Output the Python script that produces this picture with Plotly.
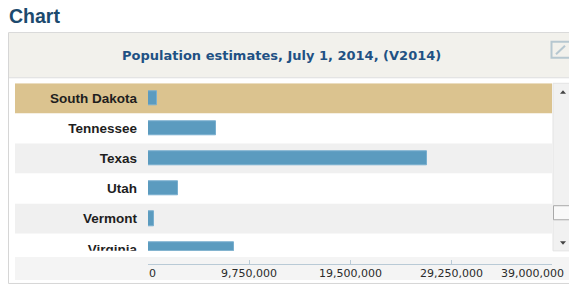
import plotly.graph_objects as go

W, H = 569, 288
FIG_H = 295

states = ["South Dakota", "Tennessee", "Texas", "Utah", "Vermont", "Virginia"]
population = [853175, 6549352, 26956958, 2942902, 626562, 8326289]
row_colors = ["#dbc38f", "#ffffff", "#f0f0f0", "#ffffff", "#f0f0f0", "#ffffff"]
tick_vals = [0, 9750000, 19500000, 29250000, 39000000]
tick_labels = ["0", "9,750,000", "19,500,000", "29,250,000", "39,000,000"]
x_max = 39000000

FONT = "Liberation Sans, Arial, sans-serif"
WIDE = "DejaVu Sans, Verdana, sans-serif"


def px(x):
    return x / W


def py(y):
    return 1 - y / H


positions = list(range(len(states)))

fig = go.Figure()
fig.add_trace(go.Bar(
    x=population, y=positions, orientation="h",
    width=0.47,
    marker=dict(color="#5b9bbf", line=dict(width=1, color="#79afcf")),
    hoverinfo="skip",
))

shapes = []
# panel
shapes.append(dict(type="rect", xref="paper", yref="paper", layer="below",
                   x0=px(8.5), x1=px(580), y0=py(282.5), y1=py(32.5),
                   line=dict(color="#d6d6d6", width=1), fillcolor="#ffffff"))
# header
shapes.append(dict(type="rect", xref="paper", yref="paper", layer="below",
                   x0=px(9), x1=px(569), y0=py(77), y1=py(33),
                   line=dict(width=0), fillcolor="#f2f1ec"))
shapes.append(dict(type="line", xref="paper", yref="paper", layer="below",
                   x0=px(9), x1=px(569), y0=py(77.5), y1=py(77.5),
                   line=dict(color="#dcdcdc", width=1)))
# row backgrounds
for i, c in enumerate(row_colors):
    shapes.append(dict(type="rect", xref="paper", yref="y", layer="below",
                       x0=px(15), x1=px(552), y0=i - 0.5, y1=i + 0.5,
                       line=dict(width=0), fillcolor=c))
# axis band
shapes.append(dict(type="rect", xref="paper", yref="paper", layer="below",
                   x0=px(15), x1=px(569), y0=py(279), y1=py(256),
                   line=dict(width=0), fillcolor="#f4f4f4"))
# scrollbar
shapes.append(dict(type="rect", xref="paper", yref="paper", layer="below",
                   x0=px(553), x1=px(570), y0=py(250), y1=py(83),
                   line=dict(color="#e3e3e3", width=1), fillcolor="#f1f1f1"))
shapes.append(dict(type="rect", xref="paper", yref="paper", layer="below",
                   x0=px(553.5), x1=px(570), y0=py(219), y1=py(205),
                   line=dict(color="#a9a9a9", width=1), fillcolor="#f9f9f9"))


def tri(pts):
    d = "M " + " L ".join(f"{px(a):.5f},{py(b):.5f}" for a, b in pts) + " Z"
    return d


shapes.append(dict(type="path", xref="paper", yref="paper", layer="above",
                   path=tri([(560, 93.5), (566, 93.5), (563, 90)]),
                   line=dict(width=0), fillcolor="#444444"))
shapes.append(dict(type="path", xref="paper", yref="paper", layer="above",
                   path=tri([(560, 240.5), (566, 240.5), (563, 244)]),
                   line=dict(width=0), fillcolor="#444444"))
# expand icon
shapes.append(dict(type="rect", xref="paper", yref="paper", layer="below",
                   x0=px(551.5), x1=px(572), y0=py(57.5), y1=py(41.5),
                   line=dict(color="#b6c7d0", width=2), fillcolor="rgba(0,0,0,0)"))
shapes.append(dict(type="line", xref="paper", yref="paper", layer="below",
                   x0=px(556), x1=px(565), y0=py(54), y1=py(45.5),
                   line=dict(color="#b6c7d0", width=2)))
# cut the partially visible last row label
shapes.append(dict(type="rect", xref="paper", yref="paper", layer="above",
                   x0=px(15), x1=px(147), y0=py(256), y1=py(250),
                   line=dict(width=0), fillcolor="#ffffff"))

annotations = [
    dict(text="Chart", xref="paper", yref="paper", x=px(7), y=py(16),
         xanchor="left", yanchor="middle", showarrow=False,
         font=dict(family=FONT, size=19.5, color="#1c4a6e", weight="bold")),
    dict(text="Population estimates, July 1, 2014, (V2014)", xref="paper", yref="paper",
         x=px(281), y=py(55.5), xanchor="center", yanchor="middle", showarrow=False,
         font=dict(family=WIDE, size=13, color="#1f5184", weight="bold")),
]
for i, (v, t) in enumerate(zip(tick_vals, tick_labels)):
    if i == 0:
        xa, xs = "left", -1
    elif i == len(tick_vals) - 1:
        xa, xs = "right", 14
    else:
        xa, xs = "center", 0
    annotations.append(dict(text=t, xref="x", yref="paper", x=v, y=py(272.5),
                            xanchor=xa, yanchor="middle", xshift=xs, showarrow=False,
                            font=dict(family=WIDE, size=11, color="#2a2a2a")))

plot_bottom = 250
fig.update_layout(
    width=W, height=FIG_H,
    margin=dict(l=0, r=0, t=0, b=0),
    paper_bgcolor="#ffffff", plot_bgcolor="rgba(0,0,0,0)",
    showlegend=False,
    bargap=0,
    shapes=shapes,
    annotations=annotations,
    xaxis=dict(range=[0, x_max], domain=[px(148), px(552)],
               anchor="free", position=py(263),
               tickvals=tick_vals, showticklabels=False,
               ticks="inside", ticklen=4, tickcolor="#b9cad6", tickwidth=1,
               showline=True, linecolor="#b9cad6", linewidth=1,
               showgrid=False, zeroline=False, fixedrange=True),
    yaxis=dict(range=[-0.5 + (plot_bottom - 83) / 30.0, -0.5],
               domain=[py(plot_bottom), py(83)],
               tickvals=positions, ticktext=states,
               ticks="", ticklabelstandoff=10,
               tickfont=dict(family=FONT, size=13.5, color="#1e1e1e", weight="bold"),
               showgrid=False, zeroline=False, showline=False, fixedrange=True),
)

fig.write_html(
    "out.html",
    config={"displayModeBar": False},
    post_script="document.documentElement.style.margin='0';document.body.style.margin='0';"
                "document.body.style.padding='0';document.documentElement.style.overflow='hidden';"
                "document.body.style.overflow='hidden';",
)
